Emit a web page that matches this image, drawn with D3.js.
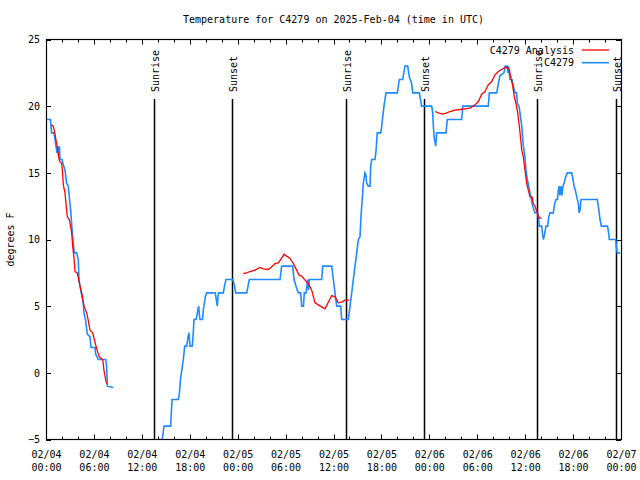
<!DOCTYPE html>
<html>
<head>
<meta charset="utf-8">
<script src="https://cdn.jsdelivr.net/npm/d3@7"></script>
<style>
  html, body { margin: 0; padding: 0; background: #fff; }
  svg { display: block; }
  text { font-family: "DejaVu Sans Mono", "Liberation Mono", monospace; font-size: 10px; fill: #000; }
</style>
</head>
<body>
<svg id="chart" width="640" height="480"></svg>
<script>
// ---- Data (hours since 2025-02-04 00:00 UTC, temperature in degrees F) ----
const titleText = "Temperature for C4279 on 2025-Feb-04 (time in UTC)";
const yLabelText = "degrees F";
const seriesNames = ["C4279 Analysis", "C4279"];

// Observations (C4279), null = gap
const obsHours = [0.13,0.56,0.63,0.69,1.0,1.13,1.25,1.38,1.5,1.57,1.69,1.75,2.0,2.17,2.38,2.59,2.79,3.0,3.09,3.29,3.42,3.54,3.84,4.04,4.13,4.35,4.55,4.67,4.76,4.97,5.17,5.51,5.63,6.14,6.22,6.55,7.48,7.6,7.68,8.43,
  11.0,
  14.4,14.56,14.78,15.61,15.78,16.57,16.69,16.87,17.03,17.19,17.37,17.62,17.78,17.91,18.03,18.32,18.44,18.53,18.78,18.87,19.03,19.12,19.2,19.28,19.6,19.7,19.95,20.12,21.2,21.37,21.45,21.54,21.62,22.2,22.38,22.54,23.38,23.58,23.75,25.13,25.46,29.3,29.51,30.89,31.06,31.31,31.59,31.89,32.02,32.24,32.34,32.56,32.77,32.87,32.97,34.52,34.65,35.78,35.98,36.19,36.4,36.9,37.03,37.85,38.07,38.28,38.48,38.69,38.91,39.11,39.32,39.44,39.53,39.66,39.73,39.94,40.07,40.16,40.36,40.57,40.66,40.79,41.2,41.33,41.48,41.91,42.04,42.16,42.32,42.57,43.99,44.24,44.67,44.95,45.29,45.49,45.79,45.92,46.75,46.92,47.04,48.3,48.42,48.5,48.62,48.8,48.92,50.09,50.25,52.05,52.18,55.38,55.51,56.44,56.64,56.85,57.35,57.51,57.76,57.83,57.89,58.01,58.1,58.35,58.52,58.73,58.92,59.02,59.23,59.35,59.57,59.77,59.98,60.1,60.27,60.44,60.61,60.77,60.95,61.11,61.23,61.55,61.65,61.77,62.07,62.2,62.27,62.4,62.61,62.82,62.95,63.11,63.52,63.7,63.86,64.05,64.15,64.24,64.36,64.49,64.61,64.74,64.9,65.08,65.28,65.83,65.96,66.12,66.28,66.46,66.66,66.75,66.87,67.0,69.03,69.21,69.37,69.54,70.29,70.41,70.54,71.34,71.46,71.54,71.9];
const obsTemps = [19,19,18.5,18,18,17.5,17,16.5,17,16.3,17,16,16,15.6,15.2,14.2,14,12.7,12.2,10.5,9.7,9,9,8.5,7,6.2,5.6,5.2,4.5,3.9,2.9,2.7,1.9,1.9,1.4,1,1,0.4,-1,-1.1,
  null,
  -6,-5,-4,-4,-2,-2,-1.6,-0.3,0.3,1,2,2,2.7,3,2,2,3,4,4,4.2,4.75,5,4.4,4,4,4.7,5.7,6,6,5.3,5,5.7,6,6,6.6,7,7,6.6,6,6,7,7,8,8,7,6.5,6,6,5,5,6,6,7,6.2,7,7,8,8,7,6,5,5,4,4,5,6,7,8,9,10,10.2,11.7,12.5,13.5,14.2,15,14.8,14.2,14,14,15.5,16,16,16.7,18,18,18.5,19.2,20,21,21,22,22,23,23,22.2,21.7,21,21,20.4,20,20,19.5,18.5,17.6,17,18,18,19,19,20,20,21,21,21.7,22.3,22.5,23,23,22.5,23,22.5,22,22,21.5,21,21,20.2,20,19.5,18.5,17,16.2,15.2,14.5,14,13.5,13,12.5,12.2,12,12,11.7,11,11,10.3,10,10.3,11,11,11.7,12,12,12.7,13,13,13.7,14,13.3,14,13.3,14,14.3,14.7,15,15,14.6,14,13.7,13.2,12.7,12,12.2,13,13,12.3,11.5,11,11,10.7,10,10,9.2,9,9];

// Analysis (C4279 Analysis), null = gap
const anaHours = [0.63,0.91,1.13,1.41,1.67,1.97,2.09,2.17,2.38,2.5,2.67,2.92,3.22,3.34,3.51,3.63,3.92,4.26,4.47,4.76,5.1,5.3,5.51,5.85,6.05,6.35,6.67,7.1,7.26,7.48,7.6,
  15.0,
  24.71,25.13,25.54,26.17,26.8,27.21,27.84,28.26,28.68,29.09,29.51,29.8,30.14,30.55,30.97,31.39,31.72,32.02,32.43,32.85,33.27,33.69,34.1,34.52,34.94,35.35,35.78,36.19,36.6,37.03,37.44,37.98,
  43.0,
  48.71,49.12,49.68,50.18,50.59,51.22,51.84,52.47,53.09,53.72,54.13,54.56,54.97,55.38,55.81,56.22,56.64,57.06,57.48,57.76,58.01,58.19,58.44,58.64,58.85,59.07,59.27,59.44,59.57,59.77,59.98,60.19,60.39,60.61,60.86,61.02,61.23,61.52,61.77,62.07];
const anaTemps = [18.6,18.5,17.9,16.9,15.9,15.7,14.9,14.1,13.5,12.7,11.7,11.5,10.5,9.5,8.6,7.6,7.5,6.5,6,5,4.5,3.9,3.2,3,2.5,1.8,1.2,1,0.2,-0.55,-0.8,
  null,
  7.45,7.5,7.6,7.7,7.9,7.8,7.75,7.95,8.2,8.25,8.6,8.9,8.75,8.6,8.2,7.7,7.3,7.25,6.95,6.7,6.2,5.25,5.1,4.95,4.8,5.3,5.8,5.7,5.25,5.3,5.45,5.45,
  null,
  19.6,19.5,19.4,19.5,19.6,19.7,19.75,19.8,19.85,20.1,20.35,20.9,21.1,21.6,21.85,22.35,22.6,22.75,22.9,22.9,22.75,22.2,21.5,20.7,20.2,19.5,18.5,17.5,16.7,16.2,15.2,14.2,13.7,13.2,13.2,12.7,12.5,12,11.6,11.6];

// Sun events (hours since start)
const sunHours = [13.56, 23.35, 37.6, 47.33, 61.52, 71.41];
const sunLabels = ["Sunrise", "Sunset", "Sunrise", "Sunset", "Sunrise", "Sunset"];

// Axis ticks
const xTickHours = [0, 6, 12, 18, 24, 30, 36, 42, 48, 54, 60, 66, 72];
const xTickDates = ["02/04","02/04","02/04","02/04","02/05","02/05","02/05","02/05","02/06","02/06","02/06","02/06","02/07"];
const xTickTimes = ["00:00","06:00","12:00","18:00","00:00","06:00","12:00","18:00","00:00","06:00","12:00","18:00","00:00"];
const xMinorHours = d3.range(0, 73, 2);
const yTicks = [-5, 0, 5, 10, 15, 20, 25];

// ---- Layout ----
const L = 46, R = 621, T = 39.5, B = 439.5;
const svg = d3.select("#chart");
const x = d3.scaleLinear().domain([0, 72]).range([L, R]);
const y = d3.scaleLinear().domain([-5, 25]).range([B, T]);

svg.append("defs").append("clipPath").attr("id", "clip")
  .append("rect").attr("x", L).attr("y", T).attr("width", R - L).attr("height", B - T);

// Title
svg.append("text").attr("x", (L + R) / 2).attr("y", 23)
  .attr("text-anchor", "middle").text(titleText);

// Y label
svg.append("text").attr("transform", `translate(14,${(T + B) / 2}) rotate(-90)`)
  .attr("text-anchor", "middle").text(yLabelText);

// Minor/major x ticks (bottom & top)
const tickG = svg.append("g").attr("stroke", "#000").attr("stroke-width", 1);
xMinorHours.forEach(h => {
  const major = h % 6 === 0;
  const len = major ? 5 : 3;
  const xx = Math.round(x(h)) + 0.5;
  tickG.append("line").attr("x1", xx).attr("x2", xx).attr("y1", B).attr("y2", B - len);
  tickG.append("line").attr("x1", xx).attr("x2", xx).attr("y1", T).attr("y2", T + len);
});
yTicks.forEach(v => {
  const yy = Math.round(y(v)) + 0.5;
  tickG.append("line").attr("x1", L).attr("x2", L + 5).attr("y1", yy).attr("y2", yy);
  tickG.append("line").attr("x1", R).attr("x2", R - 5).attr("y1", yy).attr("y2", yy);
});

// Y axis labels via d3 axis (text only)
const yAxis = svg.append("g").attr("transform", `translate(${L},0)`)
  .call(d3.axisLeft(y).tickValues(yTicks).tickSize(0).tickPadding(6));
yAxis.select(".domain").remove();
yAxis.selectAll("text").attr("font-family", "DejaVu Sans Mono").attr("font-size", 10).attr("fill", "#000");

// X axis labels (two lines)
const xAxis = svg.append("g").attr("transform", `translate(0,${B})`)
  .call(d3.axisBottom(x).tickValues(xTickHours).tickSize(0).tickFormat(() => ""));
xAxis.select(".domain").remove();
xAxis.selectAll(".tick").each(function(d, i) {
  const t = d3.select(this).append("text").attr("text-anchor", "middle")
    .attr("font-family", "DejaVu Sans Mono").attr("font-size", 10).attr("fill", "#000");
  t.append("tspan").attr("x", 0).attr("y", 18).text(xTickDates[i]);
  t.append("tspan").attr("x", 0).attr("y", 31).text(xTickTimes[i]);
});

// Sunrise / sunset lines
sunHours.forEach((h, i) => {
  const xx = Math.round(x(h)) + 0.5;
  svg.append("line").attr("x1", xx).attr("x2", xx).attr("y1", 99).attr("y2", B)
    .attr("stroke", "#000").attr("stroke-width", 1.5);
  svg.append("text").attr("transform", `translate(${xx + 4},92) rotate(-90)`)
    .attr("text-anchor", "start").text(sunLabels[i]);
});

// Series
const obs = obsHours.map((h, i) => ({ h, v: obsTemps[i] }));
const ana = anaHours.map((h, i) => ({ h, v: anaTemps[i] }));
const line = d3.line().defined(d => d.v !== null).x(d => x(d.h)).y(d => y(d.v));
const plotG = svg.append("g").attr("clip-path", "url(#clip)");
plotG.append("path").datum(obs).attr("d", line).attr("fill", "none")
  .attr("stroke", "#1e8cff").attr("stroke-width", 1.6).attr("stroke-linejoin", "miter");
plotG.append("path").datum(ana).attr("d", line).attr("fill", "none")
  .attr("stroke", "#ff0000").attr("stroke-width", 1.3);

// Frame
svg.append("rect").attr("x", L + 0.5).attr("y", T).attr("width", R - L).attr("height", B - T)
  .attr("fill", "none").attr("stroke", "#000").attr("stroke-width", 1.2);

// Legend
const legColors = ["#ff0000", "#1e8cff"];
seriesNames.forEach((name, i) => {
  const ly = 50 + i * 12.7;
  svg.append("text").attr("x", 574).attr("y", ly).attr("dy", "0.35em")
    .attr("text-anchor", "end").text(name);
  svg.append("line").attr("x1", 582).attr("x2", 609).attr("y1", ly).attr("y2", ly)
    .attr("stroke", legColors[i]).attr("stroke-width", i === 0 ? 1.3 : 1.6);
});
</script>
</body>
</html>
